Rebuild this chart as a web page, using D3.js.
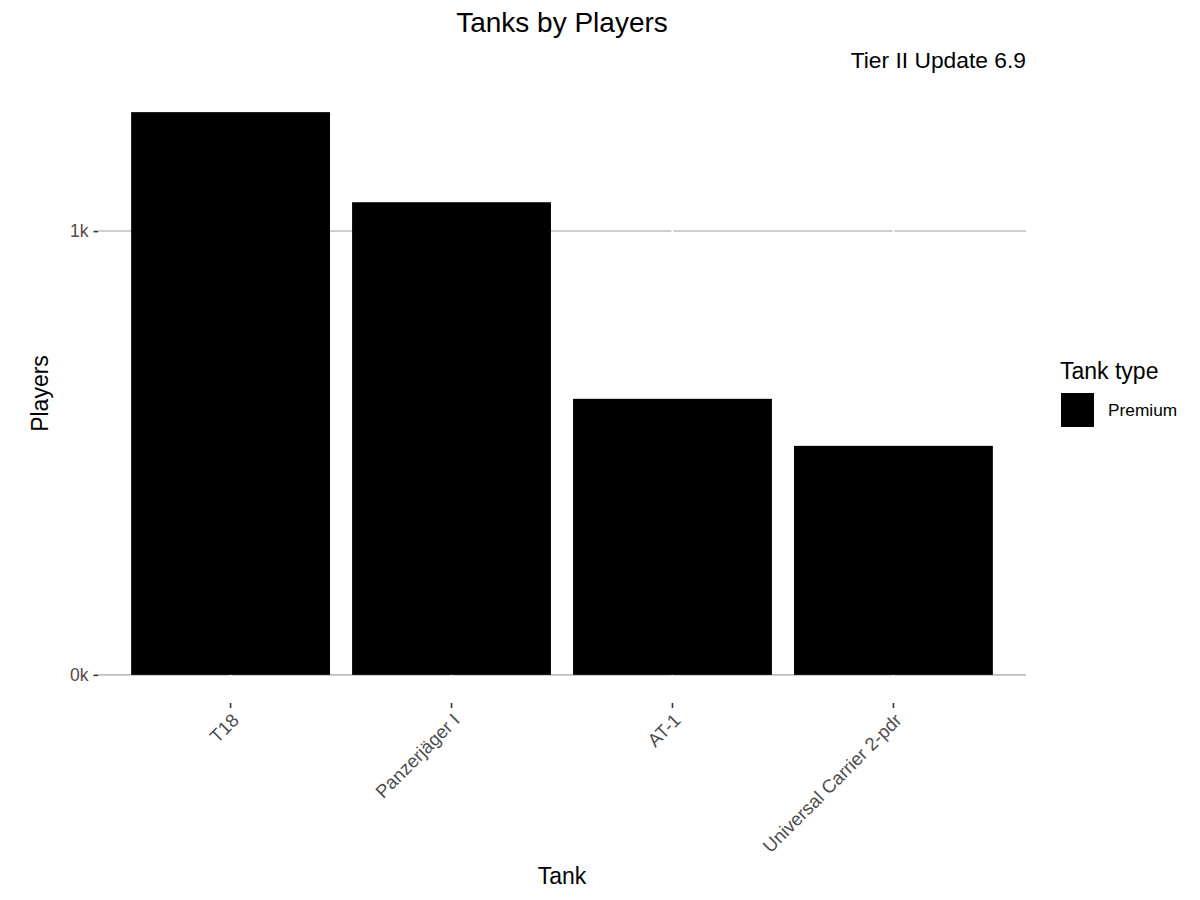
<!DOCTYPE html>
<html>
<head>
<meta charset="utf-8">
<script src="https://cdn.jsdelivr.net/npm/d3@7"></script>
<style>
  body { margin: 0; background: #fff; }
  text { font-family: "Liberation Sans", Arial, sans-serif; }
</style>
</head>
<body>
<svg id="chart" width="1200" height="900"></svg>
<script>
const tanks = ["T18", "Panzerjäger I", "AT-1", "Universal Carrier 2-pdr"];
const players = [1268, 1065, 622, 516];
const tankTypes = ["Premium"];
const typeColors = ["#000000"];
const yTickValues = [0, 1000];
const yTickLabels = ["0k", "1k"];

const chartTitle = "Tanks by Players";
const chartSubtitle = "Tier II Update 6.9";
const xTitle = "Tank";
const yTitle = "Players";
const legendTitle = "Tank type";

const svg = d3.select("#chart");
const panel = { left: 98, right: 1026, top: 84, bottom: 703 };

const maxV = d3.max(players);
const x = d3.scaleBand().domain(tanks)
  .range([panel.left, panel.right])
  .paddingInner(0.1).paddingOuter(0.15);
const y = d3.scaleLinear().domain([-0.05 * maxV, 1.05 * maxV])
  .range([panel.bottom, panel.top]);

// horizontal grid lines
svg.append("g").selectAll("line").data(yTickValues).join("line")
  .attr("x1", panel.left).attr("x2", panel.right)
  .attr("y1", d => y(d)).attr("y2", d => y(d))
  .attr("stroke", "#bebebe").attr("stroke-width", 1.6);

// vertical white grid lines (over horizontal)
svg.append("g").selectAll("line").data(tanks).join("line")
  .attr("x1", d => x(d) + x.bandwidth() / 2).attr("x2", d => x(d) + x.bandwidth() / 2)
  .attr("y1", panel.top).attr("y2", panel.bottom)
  .attr("stroke", "#ffffff").attr("stroke-width", 2);

// bars
svg.append("g").selectAll("rect").data(tanks).join("rect")
  .attr("x", d => x(d))
  .attr("width", x.bandwidth())
  .attr("y", (d, i) => y(players[i]))
  .attr("height", (d, i) => y(0) - y(players[i]))
  .attr("fill", typeColors[0]);

// y axis
const yAxis = d3.axisLeft(y).tickValues(yTickValues)
  .tickFormat((d, i) => yTickLabels[i]).tickSize(4.5).tickPadding(5);
const gy = svg.append("g").attr("transform", `translate(${panel.left},0)`).call(yAxis);
gy.select(".domain").remove();
gy.selectAll(".tick line").attr("stroke", "#333333").attr("stroke-width", 1.6);
gy.selectAll(".tick text").attr("fill", "#5a4a44")
  .style("font-size", "17.5px").style("font-family", "'Liberation Sans', Arial, sans-serif");

// x axis
const xAxis = d3.axisBottom(x).tickSize(5).tickPadding(4);
const gx = svg.append("g").attr("transform", `translate(0,${panel.bottom})`).call(xAxis);
gx.select(".domain").remove();
gx.selectAll(".tick line").attr("stroke", "#333333").attr("stroke-width", 1.6);
gx.selectAll(".tick text")
  .attr("fill", "#4d4d4d")
  .style("font-size", "18.5px").style("font-family", "'Liberation Sans', Arial, sans-serif")
  .attr("text-anchor", "end")
  .attr("y", 0).attr("dy", "0.72em")
  .attr("transform", "translate(0,9) rotate(-45)");

// titles
svg.append("text").attr("x", (panel.left + panel.right) / 2).attr("y", 32)
  .attr("text-anchor", "middle").style("font-size", "28px").attr("fill", "#000")
  .text(chartTitle);
svg.append("text").attr("x", panel.right).attr("y", 68)
  .attr("text-anchor", "end").style("font-size", "22.8px").attr("fill", "#000")
  .text(chartSubtitle);
svg.append("text").attr("x", (panel.left + panel.right) / 2).attr("y", 884)
  .attr("text-anchor", "middle").style("font-size", "23px").attr("fill", "#000")
  .text(xTitle);
svg.append("text")
  .attr("transform", `translate(48,${(panel.top + panel.bottom) / 2}) rotate(-90)`)
  .attr("text-anchor", "middle").style("font-size", "23px").attr("fill", "#000")
  .text(yTitle);

// legend
const lg = svg.append("g");
lg.append("text").attr("x", 1060).attr("y", 379).style("font-size", "23px").attr("fill", "#000")
  .text(legendTitle);
const items = lg.selectAll("g.item").data(tankTypes).join("g").attr("class", "item")
  .attr("transform", (d, i) => `translate(1061,${393 + i * 34})`);
items.append("rect").attr("width", 33).attr("height", 34).attr("fill", (d, i) => typeColors[i]);
items.append("text").attr("x", 47).attr("y", 17).attr("dy", "0.35em")
  .style("font-size", "17.3px").attr("fill", "#000").text(d => d);
</script>
</body>
</html>
